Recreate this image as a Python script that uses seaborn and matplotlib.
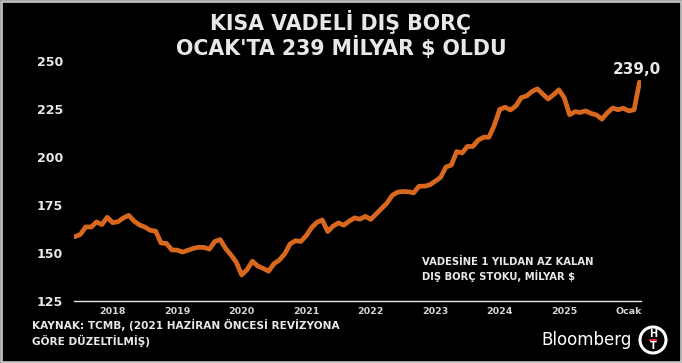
import matplotlib
matplotlib.use("Agg")
import matplotlib.pyplot as plt
from matplotlib.patches import Rectangle, Ellipse
import seaborn as sns
import pandas as pd

# ---- data (monthly, billion $) ----
debt_stock = [
    158.5, 159.7, 163.6, 163.5, 166.2, 164.8, 168.6, 165.8, 166.3, 168.3,
    169.6, 166.6, 164.6, 163.5, 161.8, 161.4, 155.2, 155.0, 151.6, 151.5,
    150.5, 151.4, 152.4, 153.0, 152.9, 152.0, 156.0, 157.0, 152.4, 149.0,
    145.2, 138.6, 141.3, 145.7, 143.2, 142.0, 140.5, 144.4, 146.3, 149.5,
    154.7, 156.4, 156.0, 159.0, 163.2, 166.0, 167.2, 161.2, 164.0, 165.7,
    164.5, 166.6, 168.3, 167.6, 169.1, 167.5, 170.3, 173.1, 175.9, 180.0,
    181.7, 182.0, 181.9, 181.3, 184.8, 184.8, 185.5, 187.4, 189.4, 194.8,
    195.8, 202.8, 202.1, 205.5, 205.5, 208.8, 210.3, 210.3, 216.6, 224.8,
    225.9, 224.5, 226.6, 230.9, 231.8, 234.1, 235.5, 232.8, 230.2, 232.4,
    235.0, 230.9, 222.0, 223.6, 223.2, 224.0, 222.7, 221.9, 219.7, 223.0,
    225.5, 224.6, 225.4, 224.0, 224.6, 239.0,
]
month_index = list(range(len(debt_stock)))
x_tick_labels = ["2018", "2019", "2020", "2021", "2022", "2023", "2024", "2025", "Ocak"]
x_tick_pos = [7, 19, 31, 43, 55, 67, 79, 91, 103]
y_ticks = [125, 150, 175, 200, 225, 250]
last_label = "239,0"

df = pd.DataFrame({"ay": month_index, "borc": debt_stock})

sns.set_theme(style="dark")
plt.rcParams["font.family"] = ["DejaVu Sans"]

fig = plt.figure(figsize=(6.82, 3.63), dpi=100, facecolor="black")
ax = fig.add_axes([74 / 682, 1 - 301 / 363, (641 - 74) / 682, (301 - 61) / 363])
ax.set_facecolor("black")

sns.lineplot(data=df, x="ay", y="borc", ax=ax, color="#d9681f", linewidth=3.4,
             solid_joinstyle="round", solid_capstyle="round")

ax.set_xlim(-0.19, 105.28)
ax.set_ylim(125, 250)
ax.set_xlabel("")
ax.set_ylabel("")
ax.grid(False)
for s in ["top", "right", "left"]:
    ax.spines[s].set_visible(False)
ax.spines["bottom"].set_color("#e6e6e6")
ax.spines["bottom"].set_linewidth(1.0)

ax.set_yticks(y_ticks)
ax.set_yticklabels([str(v) for v in y_ticks], color="#e8e8e8", fontsize=9, fontweight="bold")
ax.set_xticks(x_tick_pos)
ax.set_xticklabels(x_tick_labels, color="#d4d4d4", fontsize=6.8, fontweight="bold")
ax.tick_params(axis="y", length=0, pad=8)
ax.tick_params(axis="x", length=0, pad=4)

# last value label
ax.annotate(last_label, xy=(month_index[-1], debt_stock[-1]), xytext=(-2, 4),
            textcoords="offset points", ha="center", va="bottom",
            color="#e8e8e8", fontsize=11, fontweight="bold", annotation_clip=False)

# series note
fig.text(422 / 682, 1 - 262 / 363, "VADESİNE 1 YILDAN AZ KALAN", color="#e8e8e8",
         fontsize=7.2, fontweight="bold", va="center", ha="left")
fig.text(422 / 682, 1 - 276 / 363, "DIŞ BORÇ STOKU, MİLYAR $", color="#e8e8e8",
         fontsize=7.2, fontweight="bold", va="center", ha="left")

# title
fig.text(0.5, 1 - 22 / 363, "KISA VADELİ DIŞ BORÇ", color="#e8e8e8", fontsize=14.8,
         fontweight="bold", ha="center", va="center")
fig.text(0.5, 1 - 47 / 363, "OCAK'TA 239 MİLYAR $ OLDU", color="#e8e8e8", fontsize=14.8,
         fontweight="bold", ha="center", va="center")

# source
fig.text(32 / 682, 1 - 325 / 363, "KAYNAK: TCMB, (2021 HAZİRAN ÖNCESİ REVİZYONA",
         color="#e8e8e8", fontsize=7.6, fontweight="bold", va="center", ha="left")
fig.text(32 / 682, 1 - 341 / 363, "GÖRE DÜZELTİLMİŞ)",
         color="#e8e8e8", fontsize=7.6, fontweight="bold", va="center", ha="left")

# logo
fig.text(632 / 682, 1 - 340 / 363, "Bloomberg", color="white", fontsize=12,
         ha="right", va="center")
cx, cy = 653 / 682, 1 - 340 / 363
fig.patches.append(Ellipse((cx, cy), 26 / 682, 26 / 363, transform=fig.transFigure,
                           facecolor="black", edgecolor="white", linewidth=2.2))
fig.text(cx, cy + 6 / 363, "H", color="white", fontsize=7, fontweight="bold", ha="center", va="center")
fig.text(cx, cy - 6 / 363, "T", color="white", fontsize=7, fontweight="bold", ha="center", va="center")
fig.patches.append(Rectangle((cx - 4 / 682, cy - 1 / 363), 8 / 682, 2 / 363, transform=fig.transFigure,
                             facecolor="#e0242c", edgecolor="none"))

# frame
fig.patches.append(Rectangle((0.0015, 0.003), 0.997, 0.994, transform=fig.transFigure,
                             facecolor="none", edgecolor="#bdbdbd", linewidth=2))

fig.savefig("out.png", dpi=100, facecolor="black")
